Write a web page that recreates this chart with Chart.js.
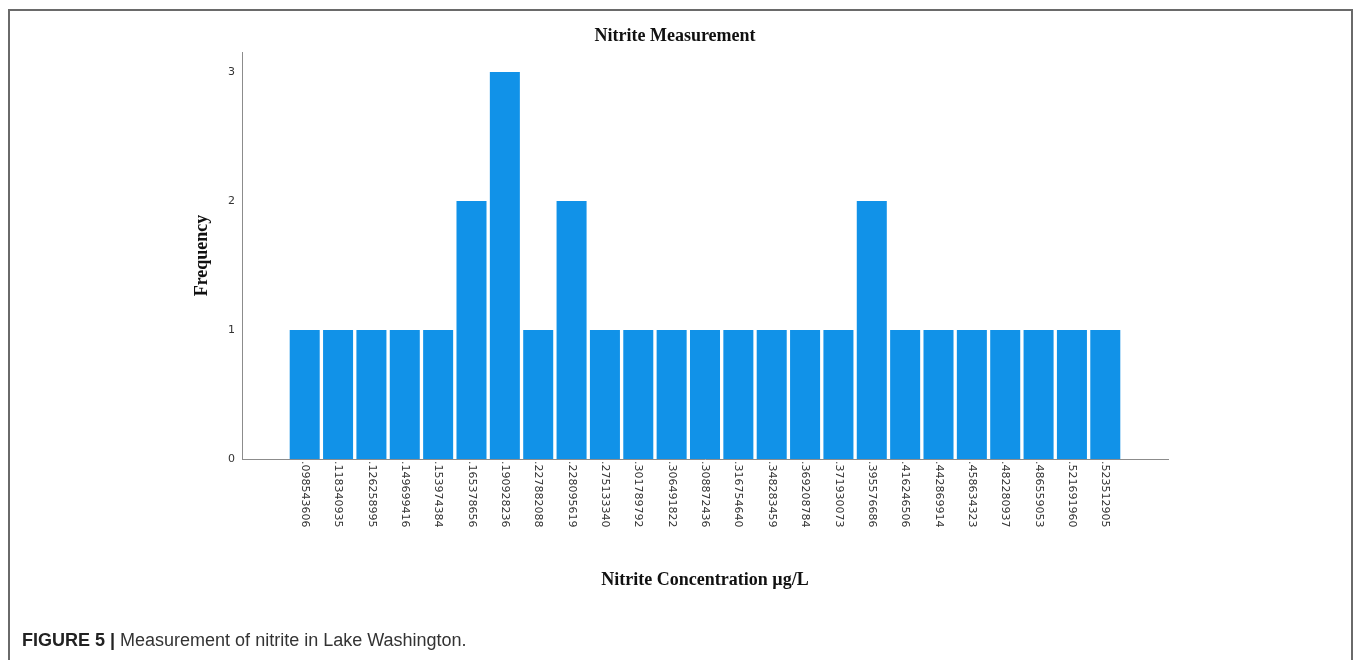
<!DOCTYPE html>
<html>
<head>
<meta charset="utf-8">
<title>Nitrite Measurement</title>
<script src="https://cdn.jsdelivr.net/npm/chart.js@4.4.1/dist/chart.umd.min.js"></script>
<style>
  html, body { margin: 0; padding: 0; background: #fff; }
  body { width: 1357px; height: 660px; position: relative; overflow: hidden; }
  #frame {
    position: absolute; left: 8px; top: 9px; width: 1345px; height: 700px;
    border: 2px solid #6a6a6a; border-bottom: none; box-sizing: border-box;
    pointer-events: none;
  }
  #chart { position: absolute; left: 0; top: 0; }
  #caption {
    position: absolute; left: 22px; top: 630px;
    font-family: "Liberation Sans", Arial, sans-serif; font-size: 18px;
    color: #333; white-space: nowrap;
  }
  #caption b { color: #222; }
</style>
</head>
<body>
<canvas id="chart" width="1357" height="660"></canvas>
<div id="frame"></div>
<div id="caption"><b>FIGURE 5 |</b> Measurement of nitrite in Lake Washington.</div>
<script>
// Nitrite concentration values (µg/L) and how often each was observed
const concentrations = [
  '.098543606', '.118340935', '.126258995', '.149699416', '.153974384',
  '.165378656', '.190928236', '.227882088', '.228095619', '.275133340',
  '.301789792', '.306491822', '.308872436', '.316754640', '.348283459',
  '.369208784', '.371930073', '.395576686', '.416246506', '.442869914',
  '.458634323', '.482280937', '.486559053', '.521691960', '.523512905'
];
const frequencies = [
  1, 1, 1, 1, 1,
  2, 3, 1, 2, 1,
  1, 1, 1, 1, 1,
  1, 1, 2, 1, 1,
  1, 1, 1, 1, 1
];
const frequencyTicks = [0, 1, 2, 3];

const barPoints = concentrations.map((c, i) => ({ x: i, y: frequencies[i] }));

const AXIS_GREY = '#8c8c8c';
const TEXT_GREY = '#333333';
const SERIF_BOLD = { family: '"Liberation Serif", "Times New Roman", serif', size: 18, weight: 'bold' };

// Category labels under each bar, written top-to-bottom
const verticalLabels = {
  id: 'verticalLabels',
  afterDraw(chart) {
    const xs = chart.scales.x;
    const ctx = chart.ctx;
    ctx.save();
    ctx.font = '11px "DejaVu Sans", sans-serif';
    ctx.fillStyle = TEXT_GREY;
    ctx.textAlign = 'left';
    ctx.textBaseline = 'middle';
    concentrations.forEach((label, i) => {
      const px = xs.getPixelForValue(i);
      ctx.save();
      ctx.translate(px, xs.top + 2);
      ctx.rotate(Math.PI / 2);
      ctx.fillText(label, 0, 0);
      ctx.restore();
    });
    ctx.restore();
  }
};

new Chart(document.getElementById('chart'), {
  type: 'bar',
  data: {
    datasets: [{
      data: barPoints,
      backgroundColor: '#1192E8',
      borderWidth: 0,
      barPercentage: 0.9,
      categoryPercentage: 1.0
    }]
  },
  options: {
    responsive: false,
    animation: false,
    devicePixelRatio: 1,
    layout: { padding: { top: 0, left: 182, right: 189, bottom: 61 } },
    plugins: {
      legend: { display: false },
      tooltip: { enabled: false },
      title: {
        display: true,
        text: 'Nitrite Measurement',
        color: '#111',
        font: SERIF_BOLD,
        padding: { top: 26, bottom: 4.4 }
      }
    },
    scales: {
      x: {
        type: 'linear',
        offset: false,
        min: -1.88,
        max: concentrations.length - 1 + 1.88,
        grid: { display: false, drawTicks: false, offset: false },
        border: { display: true, color: AXIS_GREY, width: 1 },
        ticks: { display: false },
        title: {
          display: true,
          text: 'Nitrite Concentration µg/L',
          color: '#111',
          font: SERIF_BOLD,
          padding: { top: 0, bottom: 8 }
        },
        afterFit(scale) { scale.height = 140; }
      },
      y: {
        min: 0,
        max: 3.155,
        grid: { display: false, drawTicks: false },
        border: { display: true, color: AXIS_GREY, width: 1 },
        afterBuildTicks(scale) {
          scale.ticks = frequencyTicks.map(v => ({ value: v }));
        },
        ticks: {
          padding: 7,
          color: TEXT_GREY,
          font: { family: '"DejaVu Sans", sans-serif', size: 11 }
        },
        title: {
          display: true,
          text: 'Frequency',
          color: '#111',
          font: SERIF_BOLD,
          padding: { top: 10, bottom: 0 }
        },
        afterFit(scale) { scale.width = 60; }
      }
    }
  },
  plugins: [verticalLabels]
});
</script>
</body>
</html>
